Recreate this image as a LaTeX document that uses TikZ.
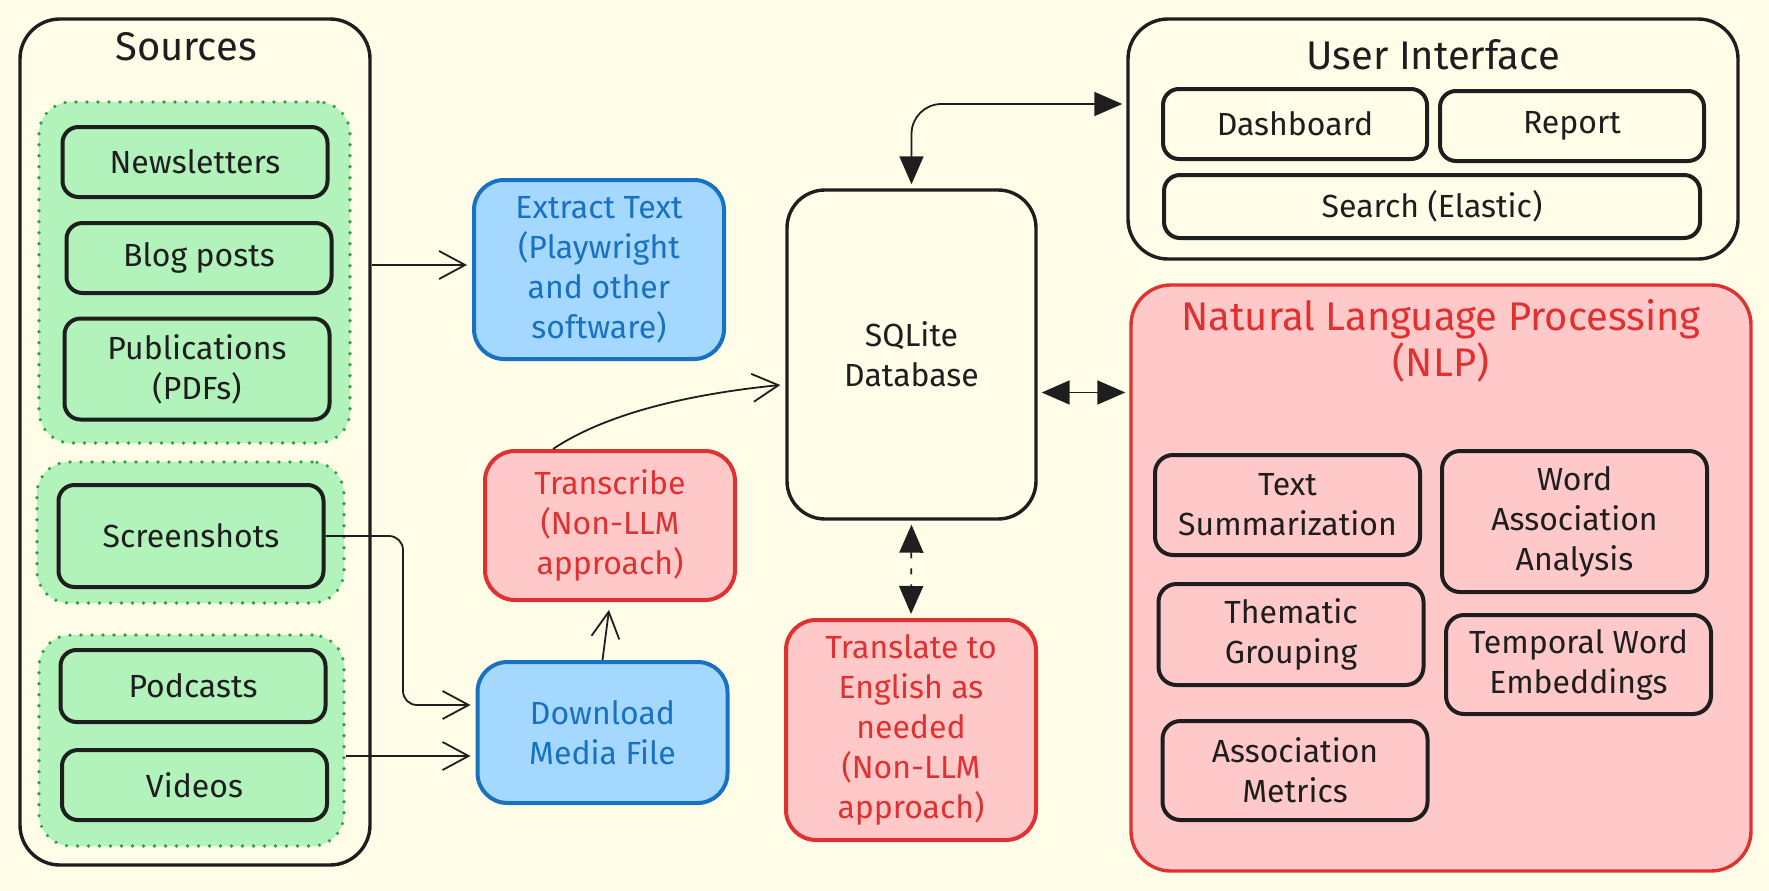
\documentclass[tikz,border=0pt]{standalone}
\usepackage{fontspec}
\setmainfont{Fira Sans}
\usetikzlibrary{arrows.meta}

\definecolor{paper}{HTML}{FFFDE8}
\definecolor{ink}{HTML}{1E1E1E}
\definecolor{greenfill}{HTML}{B2F2BB}
\definecolor{greenline}{HTML}{2F9E44}
\definecolor{bluefill}{HTML}{A5D8FF}
\definecolor{blueline}{HTML}{1971C2}
\definecolor{redfill}{HTML}{FFC9C9}
\definecolor{redline}{HTML}{E03131}

\begin{document}
\begin{tikzpicture}[x=1pt,y=-1pt,
    every node/.style={font=\fontsize{32}{40}\selectfont, align=center, text=ink},
    title/.style={font=\fontsize{40}{46}\selectfont},
    outer/.style={rectangle, draw=ink, line width=3.4pt, rounded corners=40pt},
    group/.style={rectangle, fill=greenfill, draw=greenline, line width=3.6pt,
                  line cap=round, dash pattern=on 0pt off 11pt, rounded corners=32pt},
    source/.style={rectangle, draw=ink, fill=greenfill, line width=4pt,
                   rounded corners=16pt, minimum width=265pt},
    ui item/.style={rectangle, draw=ink, line width=4pt, rounded corners=16pt,
                    minimum width=264pt, minimum height=70pt},
    task/.style={rectangle, draw=ink, fill=redfill, line width=4pt,
                 rounded corners=18pt, minimum width=265pt},
    bluebox/.style={rectangle, draw=blueline, fill=bluefill, text=blueline,
                    line width=4pt, rounded corners=30pt, minimum width=250pt},
    redbox/.style={rectangle, draw=redline, fill=redfill, text=redline,
                   line width=4pt, rounded corners=30pt, minimum width=250pt},
    open/.style={-{Straight Barb[length=26pt,width=28pt,line width=1.8pt]},
                 draw=ink, line width=1.8pt, shorten >=5pt},
    both/.style={{Triangle[length=28pt,width=24pt]}-{Triangle[length=28pt,width=24pt]},
                 draw=ink, line width=1.8pt, shorten <=4pt, shorten >=4pt}
    ]

    \useasboundingbox (0,0) rectangle (1769,891);
    \fill[paper] (0,0) rectangle (1769,891);

    % sources column
    \node[outer,
          minimum width = 350pt,
          minimum height = 846pt
          ] (sources) at (195,442) {};
    \node[title] (sourcestitle) at (186,47) {Sources};

    \node[group, minimum width=311pt, minimum height=341pt] (grptext) at (194.5,272.5) {};
    \node[source, minimum height=70pt] (news) at (195,162) {Newsletters};
    \node[source, minimum height=70pt] (blog) at (199,258) {Blog posts};
    \node[source, minimum height=101pt] (pubs) at (197,369) {Publications\\(PDFs)};

    \node[group, minimum width=307pt, minimum height=141pt] (grpshot) at (190.5,532.5) {};
    \node[source, minimum height=102pt] (shots) at (191,536) {Screenshots};

    \node[group, minimum width=305pt, minimum height=211pt] (grpmedia) at (191.5,740.5) {};
    \node[source, minimum height=72pt] (pods) at (193,686) {Podcasts};
    \node[source, minimum height=70pt] (videos) at (194.5,785) {Videos};

    % processing steps
    \node[bluebox, minimum height=179pt] (extract) at (599,269.5)
        {Extract Text\\(Playwright\\and other\\software)};
    \node[redbox, minimum height=149pt] (transcribe) at (610,525.5)
        {Transcribe\\(Non-LLM\\approach)};
    \node[bluebox, minimum height=141pt] (download) at (602.5,732.5)
        {Download\\Media File};

    % database
    \node[outer,
          rounded corners = 38pt,
          minimum width = 249pt,
          minimum height = 329pt
          ] (sqlite) at (911.5,354.5) {SQLite\\Database};
    \node[redbox, minimum height=220pt] (translate) at (911,730)
        {Translate to\\English as\\needed\\(Non-LLM\\approach)};

    % user interface
    \node[outer,
          minimum width = 610pt,
          minimum height = 240pt
          ] (ui) at (1433,139) {};
    \node[title] (uititle) at (1433,55) {User Interface};
    \node[ui item] (dash) at (1295,124) {Dashboard};
    \node[ui item] (report) at (1572,126) {Report};
    \node[ui item, minimum width=536pt, minimum height=63pt] (search) at (1432,206.5)
        {Search (Elastic)};

    % nlp
    \node[outer,
          draw = redline,
          fill = redfill,
          minimum width = 620pt,
          minimum height = 586pt
          ] (nlp) at (1441,578) {};
    \node[title, text=redline] (nlptitle) at (1441,341)
        {Natural Language Processing\\(NLP)};
    \node[task, minimum height=100pt] (summ) at (1287.5,505) {Text\\Summarization};
    \node[task, minimum height=141pt] (wordassoc) at (1574.5,521.5)
        {Word\\Association\\Analysis};
    \node[task, minimum height=101pt] (thematic) at (1291,634.5) {Thematic\\Grouping};
    \node[task, minimum height=99pt] (temporal) at (1578.5,664.5)
        {Temporal Word\\Embeddings};
    \node[task, minimum height=99pt] (metrics) at (1295,770.5) {Association\\Metrics};

    % connectors
    \coordinate (blogout) at ([yshift=-7pt]blog.east);
    \coordinate (shotbend) at (403,705);
    \coordinate (vidout) at ([yshift=29pt]videos.east);
    \coordinate (uiin) at ([yshift=35pt]ui.west);
    \coordinate (nlpout) at ([yshift=-38pt]sqlite.east);

    \draw[open] (sources.east |- blogout) -- (blogout -| extract.west);
    \draw[open, rounded corners=14pt] (shots.east) -| (shotbend) -- (shotbend -| download.west);
    \draw[open] (grpmedia.east |- vidout) -- (vidout -| download.west);
    \draw[open, shorten >=8pt] (download.north) -- (transcribe.south);
    \draw[open] ([xshift=70pt]transcribe.north west)
        .. controls +(60,-40) and +(-80,8) .. ([yshift=-30pt]sqlite.west);

    \draw[both, rounded corners=30pt] (sqlite.north) |- (uiin);
    \draw[both] (nlpout) -- (nlpout -| nlp.west);
    \draw[both, dash pattern=on 6pt off 10pt] (sqlite.south) -- (translate.north);

\end{tikzpicture}
\end{document}
